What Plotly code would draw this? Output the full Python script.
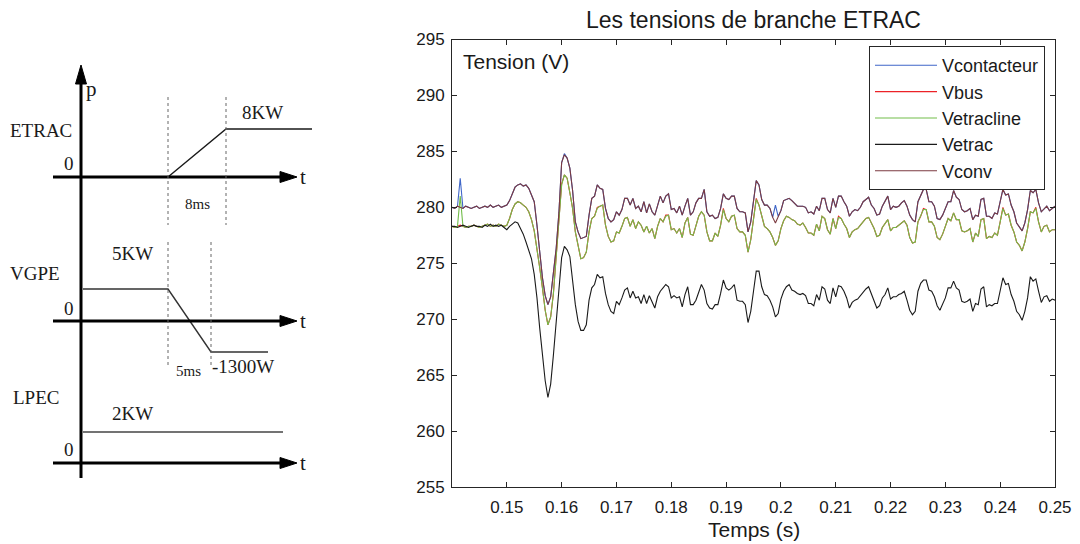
import numpy as np
import plotly.graph_objects as go

# ---------------------------------------------------------------------------
# Measured branch voltages (V), sampled every 0.5 ms from t = 0.14 s to 0.25 s
# ---------------------------------------------------------------------------
vconv = [
    280.0, 279.9, 280.1, 280.0, 279.9, 280.1, 280.0, 279.9, 280.0, 280.1,
    279.9, 280.0, 280.1, 280.0, 280.2, 280.0, 280.1, 280.2, 280.0, 280.1,
    280.2, 280.6, 281.3, 281.8, 282.0, 282.1, 281.9, 282.0, 281.7, 281.1,
    280.5, 278.4, 276.0, 273.7, 272.1, 271.3, 272.0, 274.2, 276.3, 279.5,
    284.0, 284.7, 284.4, 283.5, 281.5, 278.7, 277.8, 277.2, 277.3, 277.4,
    279.3, 280.8, 281.0, 282.0, 281.7, 281.6, 279.9, 279.0, 278.7, 278.9,
    279.6, 279.3, 279.8, 280.8, 280.8, 280.2, 280.8, 279.9, 280.1, 279.6,
    280.5, 279.5, 280.3, 279.6, 279.3, 280.1, 281.0, 280.4, 281.0, 281.2,
    279.8, 279.9, 279.5, 280.1, 279.3, 280.1, 280.8, 279.3, 279.6, 280.4,
    280.8, 280.8, 281.6, 279.6, 279.2, 279.3, 279.0, 279.1, 279.9, 281.2,
    280.8, 280.7, 281.0, 281.0, 279.9, 279.6, 279.6, 279.5, 277.8, 278.7,
    280.8, 282.4, 282.0, 280.7, 280.2, 280.2, 279.9, 279.1, 278.6, 279.2,
    279.7, 280.6, 280.7, 280.8, 280.6, 280.3, 280.1, 280.1, 280.1, 280.0,
    279.5, 279.6, 279.4, 280.1, 279.7, 280.8, 280.8, 279.8, 279.5, 280.8,
    280.0, 281.0, 281.0, 280.5, 280.1, 279.2, 279.6, 279.8, 279.7, 280.0,
    280.5, 280.7, 280.9, 280.2, 279.9, 279.3, 279.4, 280.1, 280.5, 281.0,
    279.8, 280.1, 280.0, 280.1, 280.4, 280.6, 280.1, 279.3, 278.9, 278.7,
    280.5, 281.0, 281.6, 281.6, 280.5, 280.5, 280.1, 279.0, 278.9, 279.3,
    280.0, 280.5, 280.5, 281.5, 280.9, 280.7, 279.8, 279.6, 279.7, 279.9,
    278.9, 279.3, 279.2, 280.7, 280.8, 279.2, 279.2, 279.0, 279.5, 279.4,
    280.5, 281.6, 281.1, 281.2, 280.2, 279.6, 278.6, 278.3, 277.9, 278.6,
    279.8, 281.5, 281.3, 281.6, 280.4, 279.6, 279.9, 280.1, 279.7, 279.9,
    280.1,
]

vcontacteur = [
    280.0, 279.9, 280.1, 282.6, 279.9, 280.1, 280.0, 279.9, 280.0, 280.1,
    279.9, 280.0, 280.1, 280.0, 280.2, 280.0, 280.1, 280.2, 280.0, 280.1,
    280.2, 280.6, 281.3, 281.8, 282.0, 282.1, 281.9, 282.0, 281.7, 281.1,
    280.5, 278.4, 276.0, 273.7, 272.1, 271.3, 272.0, 274.2, 276.3, 279.5,
    284.0, 284.8, 284.4, 283.5, 281.5, 278.7, 277.8, 277.2, 277.3, 277.4,
    279.3, 280.8, 281.0, 282.0, 281.7, 281.6, 279.9, 279.0, 278.7, 278.9,
    279.6, 279.3, 279.8, 280.8, 280.8, 280.2, 280.8, 279.9, 280.1, 279.6,
    280.5, 279.5, 280.3, 279.6, 279.3, 280.1, 281.0, 280.4, 281.0, 281.2,
    279.8, 279.9, 279.5, 280.1, 279.3, 280.1, 280.8, 279.3, 279.6, 280.4,
    280.8, 280.8, 281.6, 279.6, 279.2, 279.3, 279.0, 279.1, 279.9, 281.2,
    280.8, 280.7, 281.0, 281.0, 279.9, 279.6, 279.6, 279.5, 277.8, 278.7,
    280.8, 282.4, 282.0, 280.7, 280.2, 280.2, 279.9, 279.1, 280.2, 279.2,
    279.7, 280.6, 280.7, 280.8, 280.6, 280.3, 280.1, 280.1, 280.1, 280.0,
    279.5, 279.6, 279.4, 280.1, 279.7, 280.8, 280.8, 279.8, 279.5, 280.8,
    280.0, 281.0, 281.0, 280.5, 280.1, 279.2, 279.6, 279.8, 279.7, 280.0,
    280.5, 280.7, 280.9, 280.2, 279.9, 279.3, 279.4, 280.1, 280.5, 281.0,
    279.8, 280.1, 280.0, 280.1, 280.4, 280.6, 280.1, 279.3, 278.9, 278.7,
    280.5, 281.0, 281.6, 281.6, 280.5, 280.5, 280.1, 279.0, 278.9, 279.3,
    280.0, 280.5, 280.5, 281.5, 280.9, 280.7, 279.8, 279.6, 279.7, 279.9,
    278.9, 279.3, 279.2, 280.7, 280.8, 279.2, 279.2, 279.0, 279.5, 279.4,
    280.5, 281.6, 281.1, 281.2, 280.2, 279.6, 278.6, 278.3, 277.9, 278.6,
    279.8, 281.5, 281.3, 281.6, 280.4, 279.6, 279.9, 280.1, 279.7, 279.9,
    280.1,
]

vbus = [
    278.3, 278.2, 278.3, 278.4, 278.3, 278.2, 278.3, 278.3, 278.4, 278.3,
    278.2, 278.3, 278.4, 278.5, 278.3, 278.4, 278.3, 278.5, 278.4, 278.3,
    278.4, 279.0, 279.8, 280.3, 280.5, 280.4, 280.2, 280.0, 279.6, 278.9,
    277.9, 276.0, 274.6, 272.8, 270.8, 269.5, 270.2, 272.3, 275.5, 278.7,
    282.1, 282.9, 282.6, 281.3, 279.9, 277.8, 276.5, 275.4, 275.5, 276.0,
    277.8, 279.0, 279.2, 280.0, 280.1, 280.2, 278.4, 277.4, 276.9, 277.0,
    277.8, 277.7, 278.3, 279.0, 279.1, 278.3, 278.9, 278.1, 278.7, 278.4,
    277.8, 278.3, 277.7, 278.1, 277.2, 278.3, 279.0, 278.7, 279.3, 279.3,
    278.0, 278.1, 277.7, 278.1, 277.3, 278.6, 279.1, 277.6, 277.5, 278.3,
    279.2, 279.6, 279.3, 277.8, 277.0, 277.0, 277.7, 277.4, 278.4, 279.9,
    279.0, 278.7, 279.2, 279.3, 278.1, 277.8, 277.8, 277.5, 276.0, 277.1,
    279.1, 280.8, 280.2, 279.2, 278.3, 278.1, 277.8, 277.3, 276.6, 277.0,
    278.1, 278.8, 279.2, 279.1, 278.9, 278.8, 278.5, 278.4, 278.6, 278.2,
    277.7, 277.7, 277.5, 278.5, 277.9, 279.2, 279.0, 278.0, 277.6, 279.0,
    278.1, 279.2, 279.0, 278.5, 278.1, 277.3, 277.8, 278.0, 278.1, 278.4,
    278.7, 279.0, 279.1, 278.6, 278.1, 277.4, 277.5, 278.2, 278.5, 278.9,
    277.9, 278.2, 278.2, 278.4, 278.6, 278.8, 278.4, 277.3, 276.8, 276.9,
    278.7, 279.2, 279.9, 279.8, 278.7, 278.7, 278.3, 277.3, 277.1, 277.6,
    278.3, 279.0, 278.8, 279.5, 278.9, 278.9, 277.9, 277.8, 277.9, 278.1,
    276.9, 277.7, 277.4, 278.9, 279.0, 277.2, 277.4, 277.3, 277.7, 277.5,
    278.7, 280.0, 279.3, 279.4, 278.4, 277.8, 276.9, 276.6, 276.1, 276.9,
    278.1, 279.6, 279.5, 280.0, 278.7, 277.8, 278.3, 278.4, 277.8, 278.0,
    278.0,
]

vetracline = [
    278.3, 278.2, 278.3, 281.0, 278.3, 278.2, 278.3, 278.3, 278.4, 278.3,
    278.2, 278.3, 278.4, 278.5, 278.3, 278.4, 278.3, 278.5, 278.4, 278.3,
    278.4, 279.0, 279.8, 280.3, 280.5, 280.4, 280.2, 280.0, 279.6, 278.9,
    277.9, 276.0, 274.6, 272.8, 270.8, 269.5, 270.2, 272.3, 275.5, 278.7,
    282.0, 282.9, 282.6, 281.3, 279.9, 277.8, 276.5, 275.4, 275.5, 276.0,
    277.8, 279.0, 279.2, 279.9, 280.1, 280.2, 278.4, 277.4, 276.9, 277.0,
    277.8, 277.7, 278.3, 279.0, 279.1, 278.3, 278.9, 278.1, 278.7, 278.4,
    277.8, 278.3, 277.7, 278.1, 277.2, 278.3, 279.0, 278.7, 279.2, 279.3,
    278.0, 278.1, 277.7, 278.1, 277.3, 278.6, 279.1, 277.6, 277.5, 278.3,
    279.2, 279.6, 279.3, 277.8, 277.0, 277.0, 277.7, 277.4, 278.4, 279.8,
    279.0, 278.7, 279.2, 279.3, 278.1, 277.8, 277.8, 277.5, 276.0, 277.1,
    279.1, 280.7, 280.2, 279.2, 278.3, 278.1, 277.8, 277.3, 276.6, 277.0,
    278.1, 278.8, 279.2, 279.1, 278.9, 278.8, 278.5, 278.4, 278.6, 278.2,
    277.7, 277.7, 277.5, 278.5, 277.9, 279.2, 279.0, 278.0, 277.6, 279.0,
    278.1, 279.1, 279.0, 278.5, 278.1, 277.3, 277.8, 278.0, 278.1, 278.4,
    278.7, 279.0, 279.1, 278.6, 278.1, 277.4, 277.5, 278.2, 278.5, 278.9,
    277.9, 278.2, 278.2, 278.4, 278.6, 278.8, 278.4, 277.3, 276.8, 276.9,
    278.7, 279.2, 279.8, 279.8, 278.7, 278.7, 278.3, 277.3, 277.1, 277.6,
    278.3, 279.0, 278.8, 279.5, 278.9, 278.9, 277.9, 277.8, 277.9, 278.1,
    276.9, 277.7, 277.4, 278.9, 279.0, 277.2, 277.4, 277.3, 277.7, 277.5,
    278.7, 279.9, 279.3, 279.4, 278.4, 277.8, 276.9, 276.6, 276.1, 276.9,
    278.1, 279.6, 279.5, 279.9, 278.7, 277.8, 278.3, 278.4, 277.8, 278.0,
    278.0,
]

vetrac = [
    278.3, 278.3, 278.2, 278.3, 278.4, 278.3, 278.2, 278.3, 278.4, 278.3,
    278.3, 278.2, 278.4, 278.3, 278.5, 278.3, 278.4, 278.3, 278.4, 278.2,
    278.0, 278.3, 278.5, 278.7, 278.6, 278.1, 277.6, 276.9, 276.2, 275.4,
    274.0, 271.9, 269.2, 266.7, 264.5, 263.0, 264.2, 266.8, 269.5, 272.3,
    275.5, 276.5, 276.2, 275.6, 273.4, 271.3, 269.8, 269.0, 269.0, 269.5,
    271.7, 272.8, 273.1, 274.0, 273.7, 273.8, 272.3, 271.3, 270.7, 270.5,
    271.6, 271.3, 271.9, 272.6, 272.8, 271.9, 272.5, 271.9, 272.0, 271.4,
    272.2, 271.4, 272.1, 271.6, 271.0, 272.0, 272.5, 272.8, 273.1, 272.9,
    271.9, 272.1, 271.9, 272.0, 271.1, 272.2, 272.9, 271.3, 271.3, 271.7,
    272.5, 273.1, 272.6, 271.4, 271.0, 270.9, 271.3, 271.3, 272.3, 273.5,
    272.8, 272.6, 272.8, 273.1, 271.7, 271.6, 271.6, 271.3, 269.7, 270.7,
    272.5, 274.3, 274.3, 272.9, 272.2, 272.1, 271.7, 271.1, 270.2, 270.5,
    271.8, 272.5, 272.9, 273.1, 272.6, 272.5, 272.3, 272.2, 272.3, 272.1,
    271.4, 271.4, 271.2, 272.2, 271.7, 272.9, 272.7, 271.7, 271.4, 272.8,
    272.0, 273.0, 272.9, 272.5, 271.9, 271.0, 271.5, 271.7, 271.8, 272.1,
    272.5, 272.7, 272.9, 272.3, 271.7, 271.0, 271.2, 271.9, 272.2, 272.8,
    271.8, 272.0, 272.0, 272.2, 272.3, 272.5, 271.7, 270.8, 270.4, 270.7,
    272.5, 273.2, 273.5, 273.5, 272.6, 272.5, 272.0, 271.2, 270.8, 271.3,
    271.9, 272.8, 272.8, 273.4, 272.8, 272.6, 271.6, 271.5, 271.6, 271.8,
    270.7, 271.4, 271.3, 272.7, 272.9, 271.1, 271.3, 271.2, 271.4, 271.4,
    272.7, 273.7, 273.1, 273.2, 272.2, 271.6, 270.7, 270.4, 269.9, 270.7,
    271.9, 273.8, 273.4, 273.6, 272.5, 271.5, 272.0, 272.1, 271.6, 271.8,
    271.7,
]

# sample clock of the recorder: 0.5 ms steps starting at 0.14 s
T_START, T_STEP = 0.14, 0.0005
time_s = np.round(T_START + T_STEP * np.arange(len(vconv)), 4)

x_tick_vals = [0.15, 0.16, 0.17, 0.18, 0.19, 0.20, 0.21, 0.22, 0.23, 0.24, 0.25]
x_tick_text = ["0.15", "0.16", "0.17", "0.18", "0.19", "0.2",
               "0.21", "0.22", "0.23", "0.24", "0.25"]
y_tick_vals = [255, 260, 265, 270, 275, 280, 285, 290, 295]

series = [
    ("Vcontacteur", vcontacteur, "#3f66c8"),
    ("Vbus", vbus, "#ec2227"),
    ("Vetracline", vetracline, "#72bd4a"),
    ("Vetrac", vetrac, "#1a1a1a"),
    ("Vconv", vconv, "#7b3a40"),
]

# ---------------------------------------------------------------------------
# Load-profile sketch (drawing canvas units, y grows downward)
# ---------------------------------------------------------------------------
panel_axis_y = [177, 321, 463]          # time axis of each panel
etrac_profile_x = [168, 226, 312]
etrac_profile_y = [177, 129, 129]
vgpe_profile_x = [83, 168, 211, 268]
vgpe_profile_y = [289, 289, 352, 352]
lpec_profile_x = [83, 283]
lpec_profile_y = [432, 432]
event_marks_x = [168, 226, 168, 211]    # dotted guides
event_marks_y0 = [97, 97, 242, 242]
event_marks_y1 = [225, 225, 368, 368]

fig = go.Figure()

for name, vals, col in series:
    fig.add_trace(go.Scatter(
        x=time_s, y=vals, name=name, mode="lines",
        line=dict(color=col, width=1.1),
        xaxis="x", yaxis="y",
    ))

for px, py, col in [(etrac_profile_x, etrac_profile_y, "#1a1a1a"),
                    (vgpe_profile_x, vgpe_profile_y, "#333333"),
                    (lpec_profile_x, lpec_profile_y, "#444444")]:
    fig.add_trace(go.Scatter(
        x=px, y=py, mode="lines", showlegend=False, hoverinfo="skip",
        line=dict(color=col, width=1.4), xaxis="x2", yaxis="y2",
    ))

shapes = []
# vertical power axis with arrow
shapes.append(dict(type="line", xref="x2", yref="y2", x0=81, x1=81, y0=478, y1=82,
                   line=dict(color="black", width=3)))
shapes.append(dict(type="path", xref="x2", yref="y2",
                   path="M 75.5 84 L 81 65 L 86.5 84 Z",
                   fillcolor="black", line=dict(color="black", width=1)))
# time axes with arrows
for ya in panel_axis_y:
    shapes.append(dict(type="line", xref="x2", yref="y2", x0=53, x1=284, y0=ya, y1=ya,
                       line=dict(color="black", width=3)))
    shapes.append(dict(type="path", xref="x2", yref="y2",
                       path=f"M 280 {ya - 5.5} L 297 {ya} L 280 {ya + 5.5} Z",
                       fillcolor="black", line=dict(color="black", width=1)))
# dotted guides
for gx, g0, g1 in zip(event_marks_x, event_marks_y0, event_marks_y1):
    shapes.append(dict(type="line", xref="x2", yref="y2", x0=gx, x1=gx, y0=g0, y1=g1,
                       line=dict(color="#666666", width=1, dash="dot")))

serif = "Liberation Serif"
sans = "Liberation Sans"


def sketch_text(txt, x, y, size=19, xanchor="left"):
    return dict(text=txt, x=x, y=y, xref="x2", yref="y2", showarrow=False,
                xanchor=xanchor, yanchor="middle",
                font=dict(family=serif, size=size, color="#1a1a1a"))


annotations = [
    sketch_text("p", 84, 89, 21),
    sketch_text("ETRAC", 8, 130),
    sketch_text("0", 76, 163, xanchor="right"),
    sketch_text("8KW", 262, 112, xanchor="center"),
    sketch_text("8ms", 197, 204, 15, xanchor="center"),
    sketch_text("5KW", 132, 253, xanchor="center"),
    sketch_text("VGPE", 8, 273),
    sketch_text("0", 76, 308, xanchor="right"),
    sketch_text("5ms", 188, 371, 15, xanchor="center"),
    sketch_text("-1300W", 210, 366),
    sketch_text("LPEC", 11, 397),
    sketch_text("2KW", 132, 413, xanchor="center"),
    sketch_text("0", 76, 449, xanchor="right"),
]
for ya in panel_axis_y:
    annotations.append(sketch_text("t", 298, ya, 21))

annotations += [
    dict(text="Les tensions de branche ETRAC", x=753.5 / 1080, y=1 - 20 / 544,
         xref="paper", yref="paper", showarrow=False, xanchor="center", yanchor="middle",
         font=dict(family=sans, size=23, color="#1a1a1a")),
    dict(text="Tension (V)", x=461 / 1080, y=1 - 61 / 544,
         xref="paper", yref="paper", showarrow=False, xanchor="left", yanchor="middle",
         font=dict(family=sans, size=21, color="#1a1a1a")),
    dict(text="Temps (s)", x=753.5 / 1080, y=1 - 529 / 544,
         xref="paper", yref="paper", showarrow=False, xanchor="center", yanchor="middle",
         font=dict(family=sans, size=21, color="#1a1a1a")),
]

axis_col = "#262626"
tick_font = dict(family=sans, size=17, color="#1a1a1a")
fig.update_layout(
    width=1080, height=544,
    margin=dict(l=0, r=0, t=0, b=0, pad=0, autoexpand=False),
    paper_bgcolor="white", plot_bgcolor="white",
    showlegend=True,
    legend=dict(x=869 / 1080, y=1 - 46 / 544, xanchor="left", yanchor="top",
                bgcolor="white", bordercolor=axis_col, borderwidth=1,
                font=dict(family=sans, size=18, color="#1a1a1a"),
                tracegroupgap=0, itemwidth=62),
    xaxis=dict(domain=[452 / 1080, 1055 / 1080], range=[0.14, 0.25],
               tickvals=x_tick_vals, ticktext=x_tick_text,
               ticks="inside", ticklen=5, tickcolor=axis_col, ticklabelstandoff=5,
               showline=True, linecolor=axis_col, linewidth=1, mirror="ticks",
               showgrid=False, zeroline=False, anchor="y", automargin=False,
               tickfont=tick_font),
    yaxis=dict(domain=[57 / 544, 1 - 39.5 / 544], range=[255, 295],
               tickvals=y_tick_vals,
               ticks="inside", ticklen=5, tickcolor=axis_col, ticklabelstandoff=3,
               showline=True, linecolor=axis_col, linewidth=1, mirror="ticks",
               showgrid=False, zeroline=False, anchor="x", automargin=False,
               tickfont=tick_font),
    xaxis2=dict(domain=[0, 330 / 1080], range=[0, 330], visible=False,
                anchor="y2", fixedrange=True, automargin=False),
    yaxis2=dict(domain=[0, 1], range=[544, 0], visible=False,
                anchor="x2", fixedrange=True, automargin=False),
    shapes=shapes,
    annotations=annotations,
)

fig.write_html("out.html")
